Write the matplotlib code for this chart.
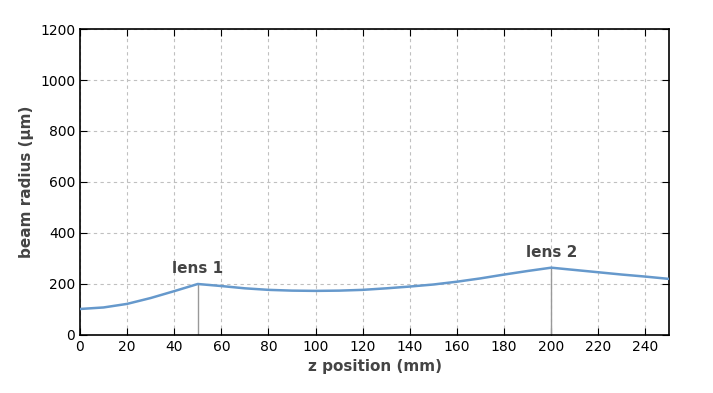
import matplotlib.pyplot as plt

# beam radius
z = [0, 10, 20, 30, 40, 50, 60, 70, 80, 90, 100, 110, 120, 130, 140, 150,
     160, 170, 180, 190, 200, 210, 220, 230, 240, 250]
w = [102, 108, 122, 145, 172, 200, 192, 183, 177, 174, 173, 174, 177, 183,
     190, 198, 209, 222, 237, 251, 264, 255, 246, 237, 229, 220]
lens_z = [50, 200]
lens_w = [200, 264]
lens_names = ["lens 1", "lens 2"]

fig = plt.figure(figsize=(7.13, 3.93), dpi=100)
ax = fig.add_axes([0.1122, 0.1476, 0.8261, 0.7786])

ax.plot(z, w, color="#6699cc", lw=1.8, zorder=3)
for lz, lw_, name in zip(lens_z, lens_w, lens_names):
    ax.plot([lz, lz], [0, lw_], color="#999999", lw=1, zorder=2)
    ax.text(lz, lw_ + 30, name, ha="center", va="bottom", fontsize=11,
            fontweight="bold", color="#444444")

ax.set_xlim(0, 250)
ax.set_ylim(0, 1200)
ax.set_xticks(range(0, 251, 20))
ax.set_yticks(range(0, 1201, 200))
ax.grid(True, color="#c0c0c0", linestyle=(0, (3, 3)), lw=0.8)
ax.tick_params(direction="in", top=True, right=True, labelsize=10, length=5)
for s in ax.spines.values():
    s.set_linewidth(1.2)

ax.set_xlabel("z position (mm)", fontsize=11, fontweight="bold", color="#444444")
ax.set_ylabel("beam radius (µm)", fontsize=11, fontweight="bold", color="#444444")

fig.savefig("out.png", dpi=100)
